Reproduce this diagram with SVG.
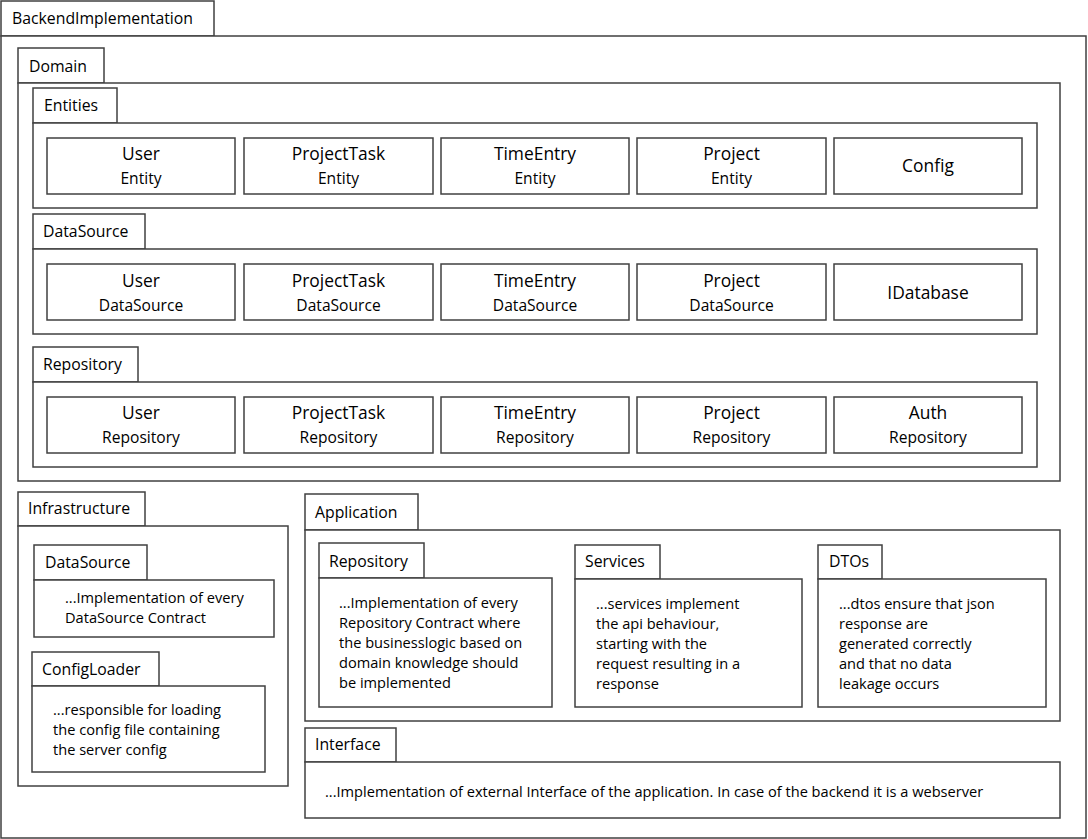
<svg xmlns="http://www.w3.org/2000/svg" width="1088" height="839" viewBox="0 0 1088 839">
<style>
rect{fill:#fff;stroke:#404040;stroke-width:1.5}
text{font-family:"Open Sans","Noto Sans",sans-serif;fill:#000}
.tab{font-size:15.8px}
.t1{font-size:17.4px;text-anchor:middle}
.t2{font-size:15.6px;text-anchor:middle}
.note{font-size:14.6px}
</style>
<rect x="0" y="0" width="1088" height="839" style="stroke:none"/>
<g id="BackendImplementation">
<rect x="1" y="1" width="213" height="35"/>
<rect x="1" y="36" width="1085" height="802"/>
<text class="tab" x="12" y="24">BackendImplementation</text>
</g>
<g id="Domain">
<rect x="18" y="48" width="86" height="35"/>
<rect x="18" y="83" width="1042" height="398"/>
<text class="tab" x="29" y="72">Domain</text>
</g>
<g id="Entities">
<rect x="33" y="88" width="84" height="35"/>
<rect x="33" y="123" width="1004" height="85"/>
<text class="tab" x="44" y="111">Entities</text>
</g>
<g id="UserEntity"><rect x="47" y="138" width="188" height="56"/><text class="t1" x="141" y="160">User</text><text class="t2" x="141" y="184">Entity</text></g>
<g id="ProjectTaskEntity"><rect x="244" y="138" width="189" height="56"/><text class="t1" x="338.5" y="160">ProjectTask</text><text class="t2" x="338.5" y="184">Entity</text></g>
<g id="TimeEntryEntity"><rect x="441" y="138" width="188" height="56"/><text class="t1" x="535" y="160">TimeEntry</text><text class="t2" x="535" y="184">Entity</text></g>
<g id="ProjectEntity"><rect x="637" y="138" width="189" height="56"/><text class="t1" x="731.5" y="160">Project</text><text class="t2" x="731.5" y="184">Entity</text></g>
<g id="Config"><rect x="834" y="138" width="188" height="56"/><text class="t1" x="928" y="172">Config</text></g>
<g id="DomainDataSource">
<rect x="33" y="214" width="112" height="35"/>
<rect x="33" y="249" width="1004" height="85"/>
<text class="tab" x="43" y="237">DataSource</text>
</g>
<g id="UserDataSource"><rect x="47" y="264" width="188" height="56"/><text class="t1" x="141" y="287">User</text><text class="t2" x="141" y="311">DataSource</text></g>
<g id="ProjectTaskDataSource"><rect x="244" y="264" width="189" height="56"/><text class="t1" x="338.5" y="287">ProjectTask</text><text class="t2" x="338.5" y="311">DataSource</text></g>
<g id="TimeEntryDataSource"><rect x="441" y="264" width="188" height="56"/><text class="t1" x="535" y="287">TimeEntry</text><text class="t2" x="535" y="311">DataSource</text></g>
<g id="ProjectDataSource"><rect x="637" y="264" width="189" height="56"/><text class="t1" x="731.5" y="287">Project</text><text class="t2" x="731.5" y="311">DataSource</text></g>
<g id="IDatabase"><rect x="834" y="264" width="188" height="56"/><text class="t1" x="928" y="299">IDatabase</text></g>
<g id="DomainRepository">
<rect x="33" y="347" width="105" height="35"/>
<rect x="33" y="382" width="1004" height="85"/>
<text class="tab" x="43" y="370">Repository</text>
</g>
<g id="UserRepository"><rect x="47" y="397" width="188" height="56"/><text class="t1" x="141" y="419">User</text><text class="t2" x="141" y="443">Repository</text></g>
<g id="ProjectTaskRepository"><rect x="244" y="397" width="189" height="56"/><text class="t1" x="338.5" y="419">ProjectTask</text><text class="t2" x="338.5" y="443">Repository</text></g>
<g id="TimeEntryRepository"><rect x="441" y="397" width="188" height="56"/><text class="t1" x="535" y="419">TimeEntry</text><text class="t2" x="535" y="443">Repository</text></g>
<g id="ProjectRepository"><rect x="637" y="397" width="189" height="56"/><text class="t1" x="731.5" y="419">Project</text><text class="t2" x="731.5" y="443">Repository</text></g>
<g id="AuthRepository"><rect x="834" y="397" width="188" height="56"/><text class="t1" x="928" y="419">Auth</text><text class="t2" x="928" y="443">Repository</text></g>
<g id="Infrastructure">
<rect x="18" y="492" width="127" height="34"/>
<rect x="18" y="526" width="270" height="260"/>
<text class="tab" x="28" y="514">Infrastructure</text>
</g>
<g id="InfraDataSource">
<rect x="34" y="545" width="113" height="35"/>
<rect x="34" y="580" width="240" height="57"/>
<text class="tab" x="45" y="568">DataSource</text>
<text class="note" x="65" y="603">...Implementation of every</text>
<text class="note" x="65" y="623">DataSource Contract</text>
</g>
<g id="ConfigLoader">
<rect x="32" y="652" width="127" height="34"/>
<rect x="32" y="686" width="233" height="86"/>
<text class="tab" x="42" y="675">ConfigLoader</text>
<text class="note" x="53" y="715">...responsible for loading</text>
<text class="note" x="53" y="735">the config file containing</text>
<text class="note" x="53" y="755">the server config</text>
</g>
<g id="Application">
<rect x="305" y="494" width="113" height="36"/>
<rect x="305" y="530" width="755" height="191"/>
<text class="tab" x="315" y="518">Application</text>
</g>
<g id="AppRepository">
<rect x="319" y="543" width="105" height="35"/>
<rect x="319" y="578" width="233" height="129"/>
<text class="tab" x="329" y="567">Repository</text>
<text class="note" x="339" y="608">...Implementation of every</text>
<text class="note" x="339" y="628">Repository Contract where</text>
<text class="note" x="339" y="648">the businesslogic based on</text>
<text class="note" x="339" y="668">domain knowledge should</text>
<text class="note" x="339" y="688">be implemented</text>
</g>
<g id="Services">
<rect x="575" y="545" width="85" height="34"/>
<rect x="575" y="579" width="227" height="128"/>
<text class="tab" x="585" y="567">Services</text>
<text class="note" x="596" y="609">...services implement</text>
<text class="note" x="596" y="629">the api behaviour,</text>
<text class="note" x="596" y="649">starting with the</text>
<text class="note" x="596" y="669">request resulting in a</text>
<text class="note" x="596" y="689">response</text>
</g>
<g id="DTOs">
<rect x="818" y="545" width="64" height="34"/>
<rect x="818" y="579" width="228" height="128"/>
<text class="tab" x="829" y="567">DTOs</text>
<text class="note" x="839" y="609">...dtos ensure that json</text>
<text class="note" x="839" y="629">response are</text>
<text class="note" x="839" y="649">generated correctly</text>
<text class="note" x="839" y="669">and that no data</text>
<text class="note" x="839" y="689">leakage occurs</text>
</g>
<g id="Interface">
<rect x="305" y="728" width="91" height="34"/>
<rect x="305" y="762" width="755" height="56"/>
<text class="tab" x="315" y="750">Interface</text>
<text class="note" x="325" y="797">...Implementation of external Interface of the application. In case of the backend it is a webserver</text>
</g>
<g id="connectors"/>
</svg>
